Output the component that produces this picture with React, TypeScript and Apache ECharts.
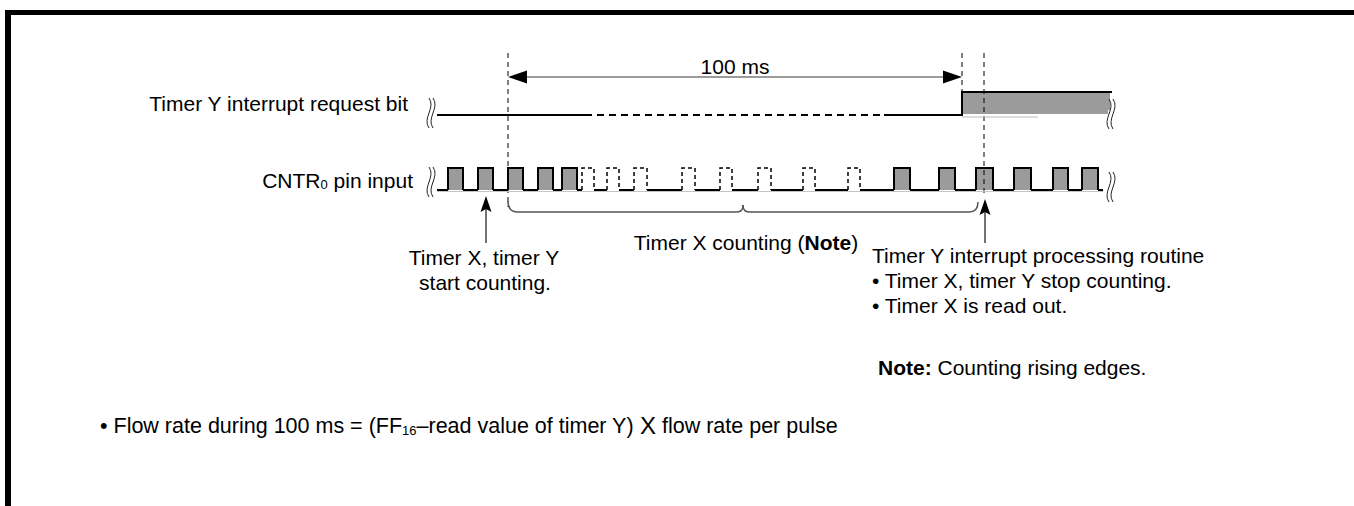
import React, { useEffect, useRef } from "react";
import * as echarts from "echarts";

const FONT = '"Liberation Sans", Arial, Helvetica, sans-serif';
const FS = 21;

// Horizontal time axis (diagram units) and vertical level axis
const timeRange = [0, 1354];
const levelRange = [0, 506];

// Timer Y interrupt request bit: [low level, high level]
const yBitLevel = [115, 92];
// start, dashed-from, dashed-to, rising edge, end
const yBitEdges = [437, 585, 884, 962, 1112];
const yBitShadowEnd = 1038;

// CNTR0 pin input: [low level, high level]
const cntrLevel = [190, 168];
const cntrSpan = [437, 1103];
// pulses as [rise, fall]
const pulsesBefore = [
  [448, 463],
  [478, 493],
  [508, 523],
  [538, 553],
  [562, 577],
];
const pulsesDashed = [
  [582, 594],
  [607, 619],
  [634, 647],
  [682, 695],
  [720, 732],
  [758, 771],
  [803, 815],
  [848, 860],
];
const pulsesAfter = [
  [894, 910],
  [939, 955],
  [976, 993],
  [1014, 1031],
  [1053, 1068],
  [1082, 1098],
];

// dashed timing markers: [time, top, bottom]
const markerLines = [
  [508, 53, 207],
  [962, 53, 92],
  [984, 53, 197],
];
// 100 ms interval: [start, end, level]
const intervalSpan = [[508, 962, 77]];
const intervalLabel = "100 ms";
// brace: [start, end, level]
const braceSpan = [[508, 978, 212]];
// up arrows: [time, tip, tail]
const arrowMarks = [
  [486, 196, 243],
  [985, 199, 243],
];
// break marks: [time, center level]
const breakMarks = [
  [431, 113],
  [1111, 114],
  [431, 182],
  [1111, 187],
];

const allPulses = [
  ...pulsesBefore.map((p) => [p[0], p[1], 0]),
  ...pulsesDashed.map((p) => [p[0], p[1], 1]),
  ...pulsesAfter.map((p) => [p[0], p[1], 0]),
];

const lowSegments: number[][] = [];
{
  let prev = cntrSpan[0];
  allPulses.forEach((p) => {
    lowSegments.push([prev, p[0]]);
    prev = p[1];
  });
  lowSegments.push([prev, cntrSpan[1]]);
}

export default function App() {
  const ref = useRef<HTMLDivElement>(null);

  useEffect(() => {
    if (!ref.current) return;
    const chart = echarts.init(ref.current, null, { renderer: "svg" });

    const txt = (
      text: string,
      x: number,
      y: number,
      align: string,
      extra: any = {}
    ) => ({
      type: "text",
      silent: true,
      style: {
        text,
        x,
        y,
        textAlign: align,
        textVerticalAlign: "middle",
        fill: "#000",
        fontFamily: FONT,
        fontSize: FS,
        ...extra,
      },
    });

    const mkRich = (fs: number) => ({
      m: { fontFamily: FONT, fontSize: fs, fill: "#000", lineHeight: 24, verticalAlign: "bottom" },
      s: { fontFamily: FONT, fontSize: 13, fill: "#000", lineHeight: 14, verticalAlign: "bottom" },
      b: { fontFamily: FONT, fontSize: fs, fontWeight: "bold", fill: "#000", lineHeight: 24 },
      n: { fontFamily: FONT, fontSize: fs, fill: "#000", lineHeight: 24 },
    });

    const option: any = {
      animation: false,
      backgroundColor: "#fff",
      grid: { left: 0, right: 0, top: 0, bottom: 0, containLabel: false },
      xAxis: { type: "value", min: timeRange[0], max: timeRange[1], show: false },
      yAxis: { type: "value", min: levelRange[0], max: levelRange[1], inverse: true, show: false },
      graphic: [
        { type: "rect", silent: true, shape: { x: 5, y: 10, width: 1349, height: 5 }, style: { fill: "#000" } },
        { type: "rect", silent: true, shape: { x: 5, y: 10, width: 6, height: 496 }, style: { fill: "#000" } },
        txt("Timer Y interrupt request bit", 408, 103, "right"),
        txt("{m|CNTR}{s|0}{m| pin input}", 413, 179, "right", { rich: mkRich(FS) }),
        txt("Timer X, timer Y", 484, 257, "center"),
        txt("start counting.", 485, 282, "center"),
        txt("{n|Timer X counting (}{b|Note}{n|)}", 746, 242, "center", { rich: mkRich(FS) }),
        txt("Timer Y interrupt processing routine", 872, 255, "left"),
        txt("\u2022 Timer X, timer Y stop counting.", 872, 280, "left"),
        txt("\u2022 Timer X is read out.", 872, 305, "left"),
        txt("{b|Note:}{n| Counting rising edges.}", 878, 367, "left", { rich: mkRich(FS) }),
        txt(
          "{m|\u2022 Flow rate during 100 ms = (FF}{s|16}{m|\u2013read value of timer Y) }{x|X}{m| flow rate per pulse}",
          100,
          425,
          "left",
          {
            rich: {
              ...mkRich(21.5),
              x: { fontFamily: FONT, fontSize: 24, fill: "#000", lineHeight: 24, verticalAlign: "bottom" },
            },
          }
        ),
      ],
      series: [
        // light underline of CNTR signal
        {
          type: "line",
          silent: true,
          symbol: "none",
          data: [
            [cntrSpan[0], cntrLevel[0] + 1.5],
            [cntrSpan[1], cntrLevel[0] + 1.5],
          ],
          lineStyle: { color: "#c4c4c4", width: 1 },
        },
        // Y bit: light underline after rise
        {
          type: "line",
          silent: true,
          symbol: "none",
          data: [
            [yBitEdges[3], yBitLevel[0] + 2],
            [yBitShadowEnd, yBitLevel[0] + 2],
          ],
          lineStyle: { color: "#bbbbbb", width: 1 },
        },
        // Y bit gray fill when high
        {
          type: "custom",
          silent: true,
          clip: false,
          data: [[yBitEdges[3], yBitEdges[4]]],
          renderItem: (params: any, api: any) => {
            const a = api.coord([api.value(0), yBitLevel[1]]);
            const b = api.coord([api.value(1), yBitLevel[0]]);
            return {
              type: "rect",
              shape: { x: a[0] + 1, y: a[1] + 1, width: b[0] - a[0] - 3, height: b[1] - a[1] - 2 },
              style: { fill: "#9b9b9b" },
            };
          },
        },
        // Y bit waveform
        {
          type: "line",
          silent: true,
          symbol: "none",
          data: [
            [yBitEdges[0], yBitLevel[0]],
            [yBitEdges[1], yBitLevel[0]],
          ],
          lineStyle: { color: "#000", width: 2 },
        },
        {
          type: "line",
          silent: true,
          symbol: "none",
          data: [
            [yBitEdges[1], yBitLevel[0]],
            [yBitEdges[2], yBitLevel[0]],
          ],
          lineStyle: { color: "#000", width: 2, type: [7, 5] },
        },
        {
          type: "line",
          silent: true,
          symbol: "none",
          data: [
            [yBitEdges[2], yBitLevel[0]],
            [yBitEdges[3], yBitLevel[0]],
            [yBitEdges[3], yBitLevel[1]],
            [yBitEdges[4], yBitLevel[1]],
          ],
          lineStyle: { color: "#000", width: 2, join: "miter" },
        },
        // CNTR low segments
        {
          type: "custom",
          silent: true,
          clip: false,
          data: lowSegments,
          renderItem: (params: any, api: any) => {
            const a = api.coord([api.value(0), cntrLevel[0]]);
            const b = api.coord([api.value(1), cntrLevel[0]]);
            return {
              type: "line",
              shape: { x1: a[0], y1: a[1], x2: b[0], y2: b[1] },
              style: { stroke: "#000", lineWidth: 2 },
            };
          },
        },
        // CNTR pulses
        {
          type: "custom",
          silent: true,
          clip: false,
          data: allPulses,
          renderItem: (params: any, api: any) => {
            const r = api.value(0);
            const f = api.value(1);
            const dashed = api.value(2) === 1;
            const lo = api.coord([r, cntrLevel[0]]);
            const hi = api.coord([f, cntrLevel[1]]);
            const x1 = lo[0];
            const x2 = hi[0];
            const yl = lo[1];
            const yh = hi[1];
            const children: any[] = [];
            if (!dashed) {
              children.push({
                type: "rect",
                shape: { x: x1 + 1, y: yh + 1, width: x2 - x1 - 2, height: yl - yh - 1 },
                style: { fill: "#9b9b9b" },
              });
            }
            children.push({
              type: "polyline",
              shape: { points: [[x1, yl], [x1, yh], [x2, yh], [x2, yl]] },
              style: {
                stroke: "#000",
                fill: "none",
                lineWidth: dashed ? 1.5 : 2,
                lineDash: dashed ? [4, 3] : null,
                lineJoin: "miter",
              },
            });
            return { type: "group", children };
          },
        },
        // dashed timing markers
        {
          type: "custom",
          silent: true,
          clip: false,
          data: markerLines,
          renderItem: (params: any, api: any) => {
            const a = api.coord([api.value(0), api.value(1)]);
            const b = api.coord([api.value(0), api.value(2)]);
            return {
              type: "line",
              shape: { x1: a[0], y1: a[1], x2: b[0], y2: b[1] },
              style: { stroke: "#000", lineWidth: 1, lineDash: [5, 4] },
            };
          },
        },
        // 100 ms dimension
        {
          type: "custom",
          silent: true,
          clip: false,
          data: intervalSpan,
          renderItem: (params: any, api: any) => {
            const a = api.coord([api.value(0), api.value(2)]);
            const b = api.coord([api.value(1), api.value(2)]);
            const y = a[1];
            return {
              type: "group",
              children: [
                {
                  type: "line",
                  shape: { x1: a[0] + 10, y1: y, x2: b[0] - 10, y2: y },
                  style: { stroke: "#7a7a7a", lineWidth: 1.5 },
                },
                {
                  type: "polygon",
                  shape: { points: [[a[0], y], [a[0] + 19, y - 6.5], [a[0] + 19, y + 6.5]] },
                  style: { fill: "#000" },
                },
                {
                  type: "polygon",
                  shape: { points: [[b[0], y], [b[0] - 19, y - 6.5], [b[0] - 19, y + 6.5]] },
                  style: { fill: "#000" },
                },
                {
                  type: "text",
                  style: {
                    text: intervalLabel,
                    x: (a[0] + b[0]) / 2,
                    y: y - 11,
                    textAlign: "center",
                    textVerticalAlign: "middle",
                    fill: "#000",
                    fontFamily: FONT,
                    fontSize: FS,
                  },
                },
              ],
            };
          },
        },
        // brace
        {
          type: "custom",
          silent: true,
          clip: false,
          data: braceSpan,
          renderItem: (params: any, api: any) => {
            const a = api.coord([api.value(0), api.value(2)]);
            const b = api.coord([api.value(1), api.value(2)]);
            const xa = a[0];
            const xb = b[0];
            const y = a[1];
            const m = (xa + xb) / 2;
            const st = { stroke: "#555", lineWidth: 1.5, fill: "none" };
            return {
              type: "group",
              children: [
                { type: "bezierCurve", shape: { x1: xa, y1: y - 11, cpx1: xa, cpy1: y - 3, cpx2: xa + 3, cpy2: y, x2: xa + 9, y2: y }, style: st },
                { type: "line", shape: { x1: xa + 9, y1: y, x2: m - 6, y2: y }, style: st },
                { type: "bezierCurve", shape: { x1: m - 6, y1: y, cpx1: m - 2, cpy1: y, cpx2: m, cpy2: y - 3, x2: m, y2: y - 7 }, style: st },
                { type: "bezierCurve", shape: { x1: m, y1: y - 7, cpx1: m, cpy1: y - 3, cpx2: m + 2, cpy2: y, x2: m + 6, y2: y }, style: st },
                { type: "line", shape: { x1: m + 6, y1: y, x2: xb - 9, y2: y }, style: st },
                { type: "bezierCurve", shape: { x1: xb - 9, y1: y, cpx1: xb - 3, cpy1: y, cpx2: xb, cpy2: y - 3, x2: xb, y2: y - 10 }, style: st },
              ],
            };
          },
        },
        // up arrows
        {
          type: "custom",
          silent: true,
          clip: false,
          data: arrowMarks,
          renderItem: (params: any, api: any) => {
            const t = api.coord([api.value(0), api.value(1)]);
            const e = api.coord([api.value(0), api.value(2)]);
            const x = t[0];
            return {
              type: "group",
              children: [
                { type: "line", shape: { x1: x, y1: t[1] + 10, x2: x, y2: e[1] }, style: { stroke: "#444", lineWidth: 1.5 } },
                {
                  type: "polygon",
                  shape: { points: [[x, t[1]], [x - 5.5, t[1] + 16], [x, t[1] + 13], [x + 5.5, t[1] + 16]] },
                  style: { fill: "#000" },
                },
              ],
            };
          },
        },
        // break marks
        {
          type: "custom",
          silent: true,
          clip: false,
          data: breakMarks,
          renderItem: (params: any, api: any) => {
            const c = api.coord([api.value(0), api.value(1)]);
            const mk = (dx: number) => ({
              type: "bezierCurve",
              shape: {
                x1: c[0] + dx,
                y1: c[1] - 15,
                cpx1: c[0] + dx + 7,
                cpy1: c[1] - 5,
                cpx2: c[0] + dx - 7,
                cpy2: c[1] + 5,
                x2: c[0] + dx,
                y2: c[1] + 15,
              },
              style: { stroke: "#222", lineWidth: 1, fill: "none" },
            });
            return {
              type: "group",
              children: [
                { type: "rect", shape: { x: c[0] - 3, y: c[1] - 4, width: 6, height: 8 }, style: { fill: "#fff" } },
                mk(-2),
                mk(2),
              ],
            };
          },
        },
      ],
    };

    chart.setOption(option);
    return () => chart.dispose();
  }, []);

  return (
    <div
      ref={ref}
      style={{ position: "absolute", left: 0, top: 0, width: 1354, height: 506, background: "#fff" }}
    />
  );
}
